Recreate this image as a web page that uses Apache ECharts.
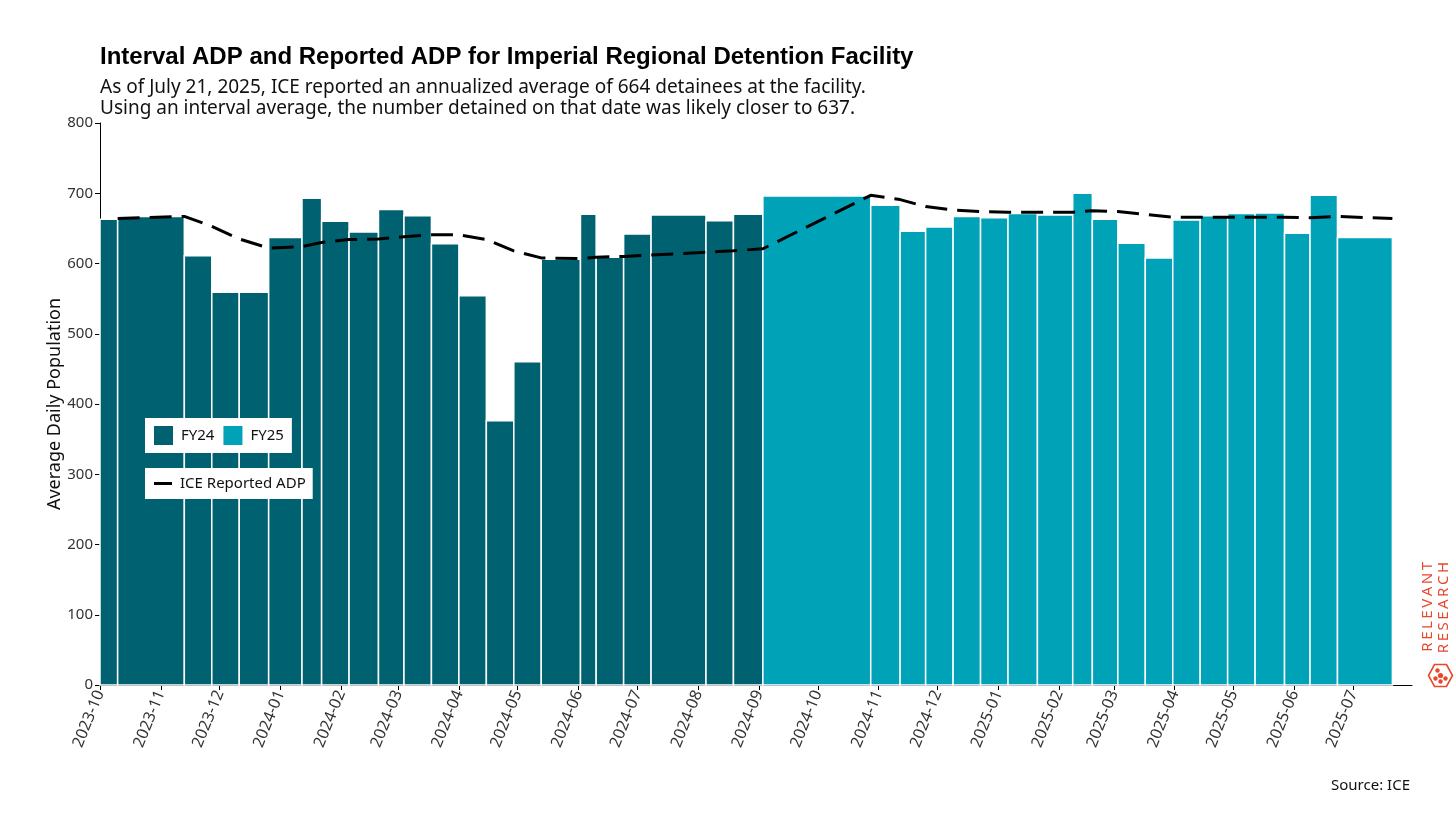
<!DOCTYPE html>
<html>
<head>
<meta charset="utf-8">
<title>Interval ADP - Imperial Regional Detention Facility</title>
<script src="https://cdn.jsdelivr.net/npm/echarts@6/dist/echarts.min.js"></script>
<style>
	html, body { margin: 0; padding: 0; background: #fff; }
	#chart { width: 1456px; height: 819px; }
</style>
</head>
<body>
<div id="chart"></div>
<script>
// report dates: each bar runs from one date to the next
var reportDates = ['2023-10-01', '2023-10-10', '2023-11-13', '2023-11-27', '2023-12-11', '2023-12-26',
	'2024-01-12', '2024-01-22', '2024-02-05', '2024-02-20', '2024-03-04', '2024-03-18', '2024-04-01',
	'2024-04-15', '2024-04-29', '2024-05-13', '2024-06-02', '2024-06-10', '2024-06-24', '2024-07-08',
	'2024-08-05', '2024-08-19', '2024-09-03', '2024-10-28', '2024-11-12', '2024-11-25', '2024-12-09',
	'2024-12-23', '2025-01-06', '2025-01-21', '2025-02-08', '2025-02-18', '2025-03-03', '2025-03-17',
	'2025-03-31', '2025-04-14', '2025-04-28', '2025-05-12', '2025-05-27', '2025-06-09', '2025-06-23',
	'2025-07-21'];
// interval ADP for each period
var intervalAdp = [663, 667, 611, 559, 559, 637, 693, 660, 645, 677, 668, 628, 554, 376, 460, 606,
	670, 609, 642, 669, 661, 670,
	696, 683, 646, 652, 667, 665, 671, 669, 700, 663, 629, 608, 662, 668, 671, 672, 643, 697, 637];
// fiscal year of each period
var fiscalYear = ['FY24', 'FY24', 'FY24', 'FY24', 'FY24', 'FY24', 'FY24', 'FY24', 'FY24', 'FY24', 'FY24',
	'FY24', 'FY24', 'FY24', 'FY24', 'FY24', 'FY24', 'FY24', 'FY24', 'FY24', 'FY24', 'FY24',
	'FY25', 'FY25', 'FY25', 'FY25', 'FY25', 'FY25', 'FY25', 'FY25', 'FY25', 'FY25', 'FY25', 'FY25',
	'FY25', 'FY25', 'FY25', 'FY25', 'FY25', 'FY25', 'FY25'];
// ICE reported (annualized) ADP at each report date after the first
var reportedAdp = [664, 667, 653, 635, 622, 624, 630, 634, 635, 638, 641, 641, 634, 618, 608, 607,
	609, 610, 612, 616, 618, 621, 697, 691, 681, 676, 674, 673, 673, 673, 675, 674, 670, 666, 666,
	666, 666, 666, 665, 667, 664];
var yTicks = [0, 100, 200, 300, 400, 500, 600, 700, 800];

var colors = { FY24: '#006270', FY25: '#00A2B8' };
var font = '"Noto Sans", "Open Sans", sans-serif';

function periods(fy) {
	var out = [];
	for (var i = 0; i < intervalAdp.length; i++) {
		if (fiscalYear[i] === fy) out.push([reportDates[i], reportDates[i + 1], intervalAdp[i]]);
	}
	return out;
}

var linePoints = reportedAdp.map(function(v, i) {
	return [reportDates[i + 1], v];
});

function renderBar(params, api) {
	var s = api.coord([api.value(0), api.value(2)]);
	var e = api.coord([api.value(1), 0]);
	return {
		type: 'rect',
		shape: { x: s[0], y: s[1], width: e[0] - s[0], height: e[1] - s[1] },
		style: { fill: api.visual('color'), stroke: '#fff', lineWidth: 1.5 }
	};
}

var myChart = echarts.init(document.getElementById('chart'));
var DAY = 86400000;
var red = '#E8472B';

var option = {
	backgroundColor: '#fff',
	animation: false,
	title: [{
		text: 'Interval ADP and Reported ADP for Imperial Regional Detention Facility',
		left: 100,
		top: 45,
		padding: 0,
		textStyle: { fontFamily: '"Liberation Sans", Arial, sans-serif', fontWeight: 'bold', fontSize: 24, color: '#000' }
	}, {
		text: 'As of July 21, 2025, ICE reported an annualized average of 664 detainees at the facility.\nUsing an interval average, the number detained on that date was likely closer to 637.',
		left: 100,
		top: 77,
		padding: 0,
		textStyle: { fontFamily: font, fontWeight: 'normal', fontSize: 19, lineHeight: 21, color: '#111' }
	}, {
		text: 'Source: ICE',
		right: 46,
		top: 778,
		padding: 0,
		textStyle: { fontFamily: font, fontWeight: 'normal', fontSize: 15, color: '#111' }
	}],
	legend: [{
		data: [{ name: 'FY24', icon: 'rect' }, { name: 'FY25', icon: 'rect' }],
		left: 145,
		top: 418,
		orient: 'horizontal',
		backgroundColor: '#fff',
		padding: [8, 8, 8, 9],
		itemWidth: 19,
		itemHeight: 19,
		itemGap: 9,
		selectedMode: false,
		textStyle: { fontFamily: font, fontSize: 15, color: '#111', padding: [0, 0, 0, 3] }
	}, {
		data: [{ name: 'ICE Reported ADP', icon: 'rect' }],
		left: 145,
		top: 468,
		backgroundColor: '#fff',
		padding: [8, 7, 8, 9],
		itemWidth: 18,
		itemHeight: 3,
		selectedMode: false,
		itemStyle: { color: '#000' },
		textStyle: { fontFamily: font, fontSize: 15, color: '#111', padding: [0, 0, 0, 3] }
	}],
	grid: { left: 100, right: 44, top: 123, bottom: 134, containLabel: false },
	xAxis: {
		type: 'time',
		min: '2023-10-01',
		max: '2025-07-31',
		splitNumber: 22,
		minInterval: 28 * DAY,
		maxInterval: 31 * DAY,
		axisLine: { show: true, lineStyle: { color: '#000', width: 1 } },
		axisTick: { show: true, length: 5, lineStyle: { color: '#000' } },
		splitLine: { show: false },
		axisLabel: {
			rotate: 68,
			margin: 6,
			fontFamily: font,
			fontSize: 16,
			color: '#333',
			hideOverlap: false,
			showMaxLabel: false,
			formatter: function(value) {
				var d = new Date(value);
				if (d.getDate() !== 1) return '';
				var m = d.getMonth() + 1;
				return d.getFullYear() + '-' + (m < 10 ? '0' + m : m);
			}
		}
	},
	yAxis: {
		type: 'value',
		min: yTicks[0],
		max: yTicks[yTicks.length - 1],
		interval: 100,
		name: 'Average Daily Population',
		nameLocation: 'middle',
		nameGap: 36,
		nameMoveOverlap: false,
		nameTextStyle: { fontFamily: font, fontSize: 18, color: '#111' },
		axisLine: { show: true, lineStyle: { color: '#000', width: 1 } },
		axisTick: { show: true, length: 5, lineStyle: { color: '#000' } },
		splitLine: { show: false },
		axisLabel: { fontFamily: font, fontSize: 15, color: '#333', margin: 7 }
	},
	series: [{
		name: 'FY24',
		type: 'custom',
		renderItem: renderBar,
		itemStyle: { color: colors.FY24 },
		encode: { x: [0, 1], y: 2 },
		data: periods('FY24'),
		z: 2
	}, {
		name: 'FY25',
		type: 'custom',
		renderItem: renderBar,
		itemStyle: { color: colors.FY25 },
		encode: { x: [0, 1], y: 2 },
		data: periods('FY25'),
		z: 2
	}, {
		name: 'ICE Reported ADP',
		type: 'line',
		data: linePoints,
		symbol: 'none',
		itemStyle: { color: '#000' },
		lineStyle: { color: '#000', width: 3, type: [22, 10] },
		z: 5
	}],
	graphic: [{
		type: 'text',
		left: 1420,
		top: 562,
		rotation: Math.PI / 2,
		style: { text: 'R\u2009E\u2009L\u2009E\u2009V\u2009A\u2009N\u2009T', fill: red, font: '15px "Noto Sans", sans-serif' }
	}, {
		type: 'text',
		left: 1436,
		top: 562,
		rotation: Math.PI / 2,
		style: { text: 'R\u2009E\u2009S\u2009E\u2009A\u2009R\u2009C\u2009H', fill: red, font: '15px "Noto Sans", sans-serif' }
	}, {
		type: 'group',
		left: 1426,
		top: 662,
		children: [{
			type: 'polygon',
			shape: { points: [[6, 0], [18, 0], [24, 11], [18, 22], [6, 22], [0, 11]] },
			style: { fill: 'none', stroke: red, lineWidth: 1.6 }
		}, {
			type: 'circle', shape: { cx: 9, cy: 6, r: 2.2 }, style: { fill: red }
		}, {
			type: 'circle', shape: { cx: 12, cy: 11, r: 2.6 }, style: { fill: red }
		}, {
			type: 'circle', shape: { cx: 7, cy: 14, r: 2.2 }, style: { fill: red }
		}, {
			type: 'circle', shape: { cx: 17, cy: 14, r: 2.2 }, style: { fill: red }
		}, {
			type: 'circle', shape: { cx: 12, cy: 17, r: 2.2 }, style: { fill: red }
		}]
	}]
};

myChart.setOption(option);
</script>
</body>
</html>
